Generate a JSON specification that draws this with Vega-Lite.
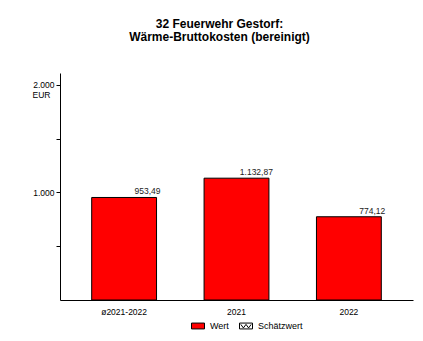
{
  "$schema": "https://vega.github.io/schema/vega-lite/v6.json",
  "autosize": {"type": "none"},
  "width": 353,
  "height": 227,
  "padding": {"left": 60, "top": 73, "right": 10, "bottom": 41},
  "background": "white",
  "config": {
    "locale": {"number": {"decimal": ",", "thousands": ".", "grouping": [3], "currency": ["", " €"]}},
    "font": "Liberation Sans",
    "view": {"stroke": null}
  },
  "title": {
    "text": ["32 Feuerwehr Gestorf:", "Wärme-Bruttokosten (bereinigt)"],
    "font": "Liberation Sans",
    "fontSize": 12,
    "fontWeight": "bold",
    "lineHeight": 13,
    "color": "black",
    "anchor": "middle",
    "offset": 29,
    "dx": -17
  },
  "data": {
    "values": [
      {"k": "ø2021-2022", "v": 953.49, "typ": "Wert"},
      {"k": "2021", "v": 1132.87, "typ": "Wert"},
      {"k": "2022", "v": 774.12, "typ": "Wert"}
    ]
  },
  "layer": [
    {
      "mark": {"type": "bar", "stroke": "black", "strokeWidth": 1},
      "encoding": {
        "x": {
          "field": "k", "type": "nominal", "sort": null,
          "scale": {"paddingInner": 0.423, "paddingOuter": 0.282},
          "axis": {"title": null, "ticks": false, "labelAngle": 0, "labelFontSize": 8.5, "labelPadding": 7, "labelColor": "black", "domainColor": "black", "domainWidth": 1}
        },
        "y": {
          "field": "v", "type": "quantitative",
          "scale": {"domain": [0, 2111], "nice": false},
          "axis": {
            "values": [500, 1000, 1500, 2000],
            "format": ",d",
            "labelExpr": "datum.value % 1000 === 0 ? datum.label : ''",
            "grid": false,
            "domainColor": "black", "tickColor": "black", "tickSize": 4,
            "labelFontSize": 8.5, "labelColor": "black", "labelPadding": 2,
            "title": "EUR", "titleAngle": 0, "titleFontSize": 8.5, "titleFontWeight": "normal",
            "titleColor": "black", "titleX": -19, "titleY": 21, "titleAlign": "center", "titleBaseline": "middle"
          }
        },
        "y2": {"datum": 0},
        "color": {
          "field": "typ", "type": "nominal",
          "scale": {"domain": ["Wert", "Schätzwert"], "range": ["#ff0000", "#ffffff"]},
          "legend": {
            "orient": "none", "legendX": 131, "legendY": 246, "direction": "horizontal",
            "title": null, "padding": 0,
            "symbolType": "M-1,-0.45H1V0.45H-1Z", "symbolSize": 169,
            "symbolStrokeColor": "black", "symbolStrokeWidth": 1,
            "labelFontSize": 9, "labelColor": "black", "labelOffset": 5, "columnPadding": 8,
            "encode": {"symbols": {"update": {"shape": {"signal": "datum.value === 'Schätzwert' ? 'M-1,-0.45H1V0.45H-1Z M-0.8,-0.25L-0.4,0.3L0,-0.25L0.4,0.3L0.8,-0.25' : 'M-1,-0.45H1V0.45H-1Z'"}}}}
          }
        }
      }
    },
    {
      "mark": {"type": "text", "align": "right", "baseline": "bottom", "dx": 4, "dy": -1, "fontSize": 8.5, "color": "#222222"},
      "encoding": {
        "x": {"field": "k", "type": "nominal", "sort": null, "bandPosition": 1},
        "y": {"field": "v", "type": "quantitative"},
        "text": {"field": "v", "type": "quantitative", "format": ",.2f"}
      }
    }
  ]
}
